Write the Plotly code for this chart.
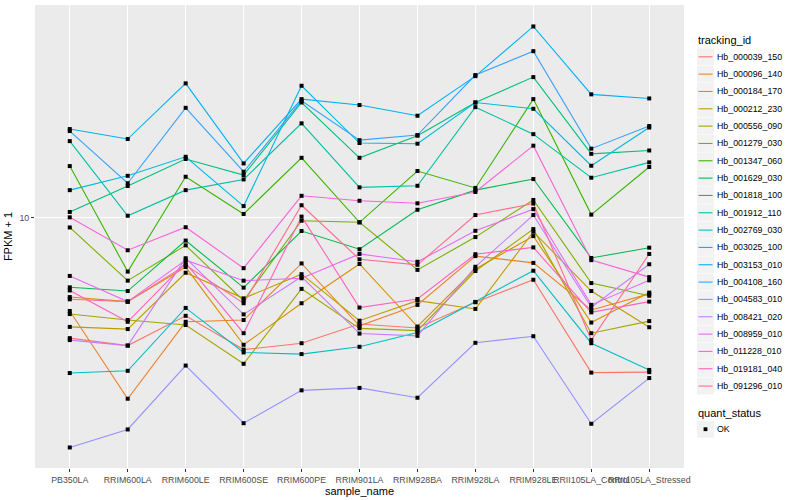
import plotly.graph_objects as go

# ---------------- data ----------------
samples = ["PB350LA", "RRIM600LA", "RRIM600LE", "RRIM600SE", "RRIM600PE",
           "RRIM901LA", "RRIM928BA", "RRIM928LA", "RRIM928LE",
           "RRII105LA_Control", "RRII105LA_Stressed"]

tracking_ids = ["Hb_000039_150", "Hb_000096_140", "Hb_000184_170", "Hb_000212_230",
                "Hb_000556_090", "Hb_001279_030", "Hb_001347_060", "Hb_001629_030",
                "Hb_001818_100", "Hb_001912_110", "Hb_002769_030", "Hb_003025_100",
                "Hb_003153_010", "Hb_004108_160", "Hb_004583_010", "Hb_008421_020",
                "Hb_008959_010", "Hb_011228_010", "Hb_019181_040", "Hb_091296_010"]

hb_000039_150 = [5.86, 5.67, 6.47, 5.57, 5.73, 6.24, 6.13, 6.87, 7.59, 5.03, 5.04]
hb_000096_140 = [6.61, 4.48, 6.30, 6.35, 8.16, 6.19, 6.79, 8.43, 8.18, 6.64, 7.13]
hb_000184_170 = [7.03, 6.89, 8.03, 5.69, 6.84, 8.14, 6.17, 7.96, 9.21, 6.28, 7.17]
hb_000212_230 = [6.16, 6.10, 7.83, 6.99, 7.78, 6.33, 6.92, 6.67, 9.39, 7.22, 6.15]
hb_000556_090 = [6.52, 6.35, 6.21, 5.23, 7.29, 6.12, 6.06, 7.89, 9.50, 5.99, 6.32]
hb_001279_030 = [9.57, 7.56, 8.84, 6.92, 9.86, 9.79, 7.93, 9.17, 10.81, 7.48, 7.07]
hb_001347_060 = [12.56, 7.87, 11.98, 10.16, 13.03, 9.79, 12.29, 11.40, 16.90, 10.13, 12.51]
hb_001629_030 = [7.34, 7.22, 9.03, 7.33, 9.42, 8.69, 10.35, 11.29, 11.86, 8.36, 8.75]
hb_001818_100 = [10.25, 11.50, 12.96, 12.07, 16.65, 13.03, 14.37, 16.65, 18.63, 13.26, 13.46]
hb_001912_110 = [14.03, 10.08, 11.29, 11.84, 15.18, 11.43, 11.51, 16.31, 14.47, 11.93, 12.77]
hb_002769_030 = [5.02, 5.07, 6.70, 5.50, 5.46, 5.64, 6.01, 6.88, 7.90, 5.73, 5.09]
hb_003025_100 = [11.29, 12.03, 13.09, 10.52, 17.93, 13.91, 13.87, 16.65, 16.19, 12.58, 14.90]
hb_003153_010 = [14.80, 14.16, 18.12, 12.71, 16.90, 16.46, 15.70, 18.71, 23.32, 17.26, 16.95]
hb_004108_160 = [14.67, 11.64, 16.26, 12.25, 16.77, 14.09, 14.41, 18.80, 20.90, 13.57, 15.00]
hb_004583_010 = [3.61, 3.91, 5.19, 4.02, 4.65, 4.70, 4.50, 5.74, 5.91, 4.01, 4.91]
hb_008421_020 = [5.81, 5.67, 8.35, 6.51, 7.69, 5.98, 5.92, 8.04, 10.11, 6.72, 8.13]
hb_008959_010 = [7.72, 6.89, 8.28, 7.56, 7.64, 8.51, 8.22, 9.43, 10.38, 6.79, 7.57]
hb_011228_010 = [10.01, 8.65, 9.58, 7.99, 11.01, 10.77, 10.65, 11.20, 13.75, 8.28, 7.68]
hb_019181_040 = [7.24, 6.30, 8.18, 5.99, 10.04, 6.71, 6.97, 8.50, 8.76, 6.57, 6.89]
hb_091296_010 = [6.96, 6.89, 8.10, 6.84, 10.56, 8.31, 8.11, 10.11, 10.64, 5.81, 8.51]

series_values = [hb_000039_150, hb_000096_140, hb_000184_170, hb_000212_230,
                 hb_000556_090, hb_001279_030, hb_001347_060, hb_001629_030,
                 hb_001818_100, hb_001912_110, hb_002769_030, hb_003025_100,
                 hb_003153_010, hb_004108_160, hb_004583_010, hb_008421_020,
                 hb_008959_010, hb_011228_010, hb_019181_040, hb_091296_010]

colors = ["#F8766D", "#EA8331", "#D89000", "#C09B00", "#A3A500", "#7CAE00",
          "#39B600", "#00BB4E", "#00BF7D", "#00C1A3", "#00BFC4", "#00BAE0",
          "#00B0F6", "#35A2FF", "#9590FF", "#C77CFF", "#E76BF3", "#FA62DB",
          "#FF62BC", "#FF6C91"]

quant_status = ["OK"]
y_tick_vals = [10]
y_tick_text = ["10"]

# ---------------- style ----------------
FONT = "Liberation Sans, Arial, Helvetica, sans-serif"
W, H = 800, 500
PL, PR, PT, PB = 35, 684, 5, 468   # panel edges in px


def fx(px):
    return (px - PL) / (PR - PL)


def fy(py):
    return (PB - py) / (PB - PT)


fig = go.Figure()

# lines
for name, vals, col in zip(tracking_ids, series_values, colors):
    fig.add_trace(go.Scatter(
        x=samples, y=vals, mode="lines", name=name,
        line=dict(color=col, width=1.1), showlegend=False,
        hoverinfo="x+y+name"))

# points on top
for name, vals in zip(tracking_ids, series_values):
    fig.add_trace(go.Scatter(
        x=samples, y=vals, mode="markers", name=name,
        marker=dict(symbol="square", size=4, color="black", line=dict(width=0)),
        showlegend=False, hoverinfo="skip"))

# ---------------- manual ggplot-style legend ----------------
shapes = []
annotations = []

annotations.append(dict(x=fx(696), y=fy(40.5), xref="paper", yref="paper",
                        text="tracking_id", showarrow=False, xanchor="left",
                        yanchor="middle", font=dict(family=FONT, size=11, color="black")))
step = 17.33
for i, (name, col) in enumerate(zip(tracking_ids, colors)):
    cy = 56.8 + i * step
    shapes.append(dict(type="rect", xref="paper", yref="paper",
                       x0=fx(697), x1=fx(714), y0=fy(cy - 8.4), y1=fy(cy + 8.4),
                       fillcolor="#F2F2F2", line=dict(width=0), layer="above"))
    shapes.append(dict(type="line", xref="paper", yref="paper",
                       x0=fx(698.5), x1=fx(712.5), y0=fy(cy), y1=fy(cy),
                       line=dict(color=col, width=1.1), layer="above"))
    annotations.append(dict(x=fx(715), y=fy(cy), xref="paper", yref="paper",
                            text=name, showarrow=False, xanchor="left", yanchor="middle",
                            font=dict(family=FONT, size=8.8, color="black")))

annotations.append(dict(x=fx(696), y=fy(412.5), xref="paper", yref="paper",
                        text="quant_status", showarrow=False, xanchor="left",
                        yanchor="middle", font=dict(family=FONT, size=11, color="black")))
qcy = 429.2
shapes.append(dict(type="rect", xref="paper", yref="paper",
                   x0=fx(697), x1=fx(714), y0=fy(qcy - 8.4), y1=fy(qcy + 8.4),
                   fillcolor="#F2F2F2", line=dict(width=0), layer="above"))
shapes.append(dict(type="rect", xref="paper", yref="paper",
                   x0=fx(703.6), x1=fx(707.4), y0=fy(qcy - 1.9), y1=fy(qcy + 1.9),
                   fillcolor="black", line=dict(width=0), layer="above"))
annotations.append(dict(x=fx(715), y=fy(qcy), xref="paper", yref="paper",
                        text=quant_status[0], showarrow=False, xanchor="left", yanchor="middle",
                        font=dict(family=FONT, size=8.8, color="black")))

fig.update_layout(
    width=W, height=H,
    margin=dict(l=PL, r=W - PR, t=PT, b=H - PB, autoexpand=False),
    paper_bgcolor="white", plot_bgcolor="#EBEBEB",
    font=dict(family=FONT, size=11, color="black"),
    showlegend=False,
    shapes=shapes, annotations=annotations,
    xaxis=dict(
        type="category", categoryorder="array", categoryarray=samples,
        range=[-0.6, len(samples) - 0.4],
        showgrid=True, gridcolor="white", gridwidth=1.1,
        showline=False, zeroline=False,
        ticks="outside", ticklen=3, tickwidth=1, tickcolor="#333333",
        tickfont=dict(family=FONT, size=8.8, color="#4D4D4D"),
        tickangle=0,
        title=dict(text="sample_name", font=dict(family=FONT, size=11, color="black"),
                   standoff=2),
        automargin=False,
    ),
    yaxis=dict(
        type="log", range=[0.518, 1.409],
        tickvals=y_tick_vals, ticktext=y_tick_text,
        showgrid=True, gridcolor="white", gridwidth=1.1,
        showline=False, zeroline=False,
        ticks="outside", ticklen=3, tickwidth=1, tickcolor="#333333",
        tickfont=dict(family=FONT, size=8.8, color="#4D4D4D"),
        title=dict(text="FPKM + 1", font=dict(family=FONT, size=11, color="black"),
                   standoff=4),
        automargin=False,
    ),
)

fig.write_html("out.html",
               config={"displayModeBar": False},
               post_script="document.body.style.margin='0';document.body.style.padding='0';")
